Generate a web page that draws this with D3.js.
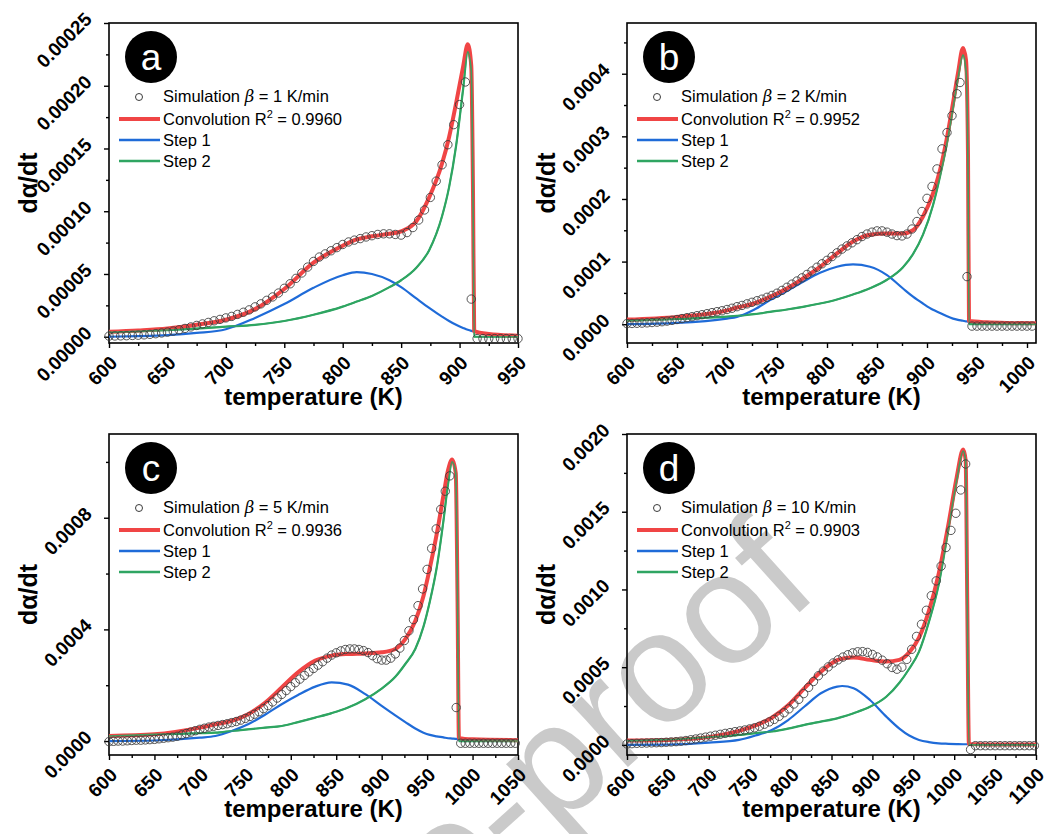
<!DOCTYPE html>
<html>
<head>
<meta charset="utf-8">
<script src="https://cdn.jsdelivr.net/npm/d3@7"></script>
<style>
  body { margin: 0; background: #ffffff; }
  svg { display: block; }
</style>
</head>
<body>
<svg id="chart" width="1057" height="834"></svg>
<script>
// ---------------- DATA ----------------
const panelLetters = ["a", "b", "c", "d"];
const heatingRates = ["1", "2", "5", "10"];
const r2Values = ["0.9960", "0.9952", "0.9936", "0.9903"];
const xDomains = [[600, 950], [600, 1009], [600, 1050], [600, 1100]];
const yDomains = [[-0.000005, 0.00025], [-0.00003, 0.000481], [-0.00005, 0.0011], [-0.000065, 0.002]];
const xMajorTicks = [
  [600, 650, 700, 750, 800, 850, 900, 950],
  [600, 650, 700, 750, 800, 850, 900, 950, 1000],
  [600, 650, 700, 750, 800, 850, 900, 950, 1000, 1050],
  [600, 650, 700, 750, 800, 850, 900, 950, 1000, 1050, 1100]
];
const yMajorTicks = [
  [0, 0.00005, 0.0001, 0.00015, 0.0002, 0.00025],
  [0, 0.0001, 0.0002, 0.0003, 0.0004],
  [0, 0.0004, 0.0008],
  [0, 0.0005, 0.001, 0.0015, 0.002]
];
const yMinorStep = [0.000025, 0.00005, 0.0002, 0.00025];
const yTickFormats = [".5f", ".4f", ".4f", ".4f"];
// values below are given in these units
const valueUnits = [1e-5, 1e-5, 1e-4, 1e-4];

// ---- panel a (beta = 1 K/min), units 1e-5 ----
const lineT_a = [600,625,650,675,700,725,750,775,800,812,825,840,850,863,874,885,891,897,903,907,910,911.5,912.5,925,950];
const conv_a  = [0.4,0.5,0.65,0.95,1.35,2.2,3.8,5.9,7.25,7.75,8.0,8.2,8.4,9.2,11.1,13.8,15.9,18.6,21.5,23.3,21.6,11.5,0.45,0.22,0.08];
const step1_a = [0.0,0.04,0.12,0.3,0.6,1.5,2.6,3.9,4.9,5.15,5.0,4.5,3.95,3.05,2.3,1.6,1.25,0.95,0.7,0.55,0.47,0.44,0.42,0.22,0.08];
const step2_a = [0.35,0.43,0.53,0.65,0.8,0.95,1.25,1.75,2.4,2.8,3.25,3.95,4.5,5.5,6.9,9.6,11.9,15.2,19.7,22.7,21.2,11.0,0.0,0.0,0.0];
const simT_a = [600,605,610,615,620,625,630,635,640,645,650,655,660,665,670,675,680,685,690,695,700,705,710,715,720,725,730,735,740,745,750,755,760,765,770,775,780,785,790,795,800,805,810,815,820,825,830,835,840,845,850,855,860,865,870,875,880,885,890,895,900,905,910,915,920,925,930,935,940,945,950];
const sim_a = [0.05,0.06,0.07,0.08,0.1,0.12,0.15,0.19,0.24,0.3,
  0.37,0.45,0.55,0.66,0.78,0.9,1.02,1.14,1.27,1.38,
  1.5,1.62,1.78,1.95,2.14,2.38,2.62,2.9,3.17,3.48,
  3.86,4.22,4.65,5.08,5.55,6.0,6.35,6.6,6.85,7.1,
  7.35,7.55,7.7,7.82,7.95,8.05,8.15,8.2,8.2,8.15,
  8.1,8.3,8.7,9.3,10.1,11.1,12.4,13.7,15.3,16.9,
  18.5,20.3,3.0,-0.15,-0.15,-0.15,-0.15,-0.15,-0.15,-0.15,-0.15];

// ---- panel b (beta = 2 K/min), units 1e-5 ----
const lineT_b = [600,650,700,710,727,743,760,776,793,810,826,843,860,876,886,896,906,913,919.5,926,931,936,939,941,942,960,980,1009];
const conv_b  = [0.74,1.17,2.2,2.67,3.31,4.37,5.71,7.31,9.17,11.3,13.2,14.3,14.5,14.5,15.0,17.2,20.9,24.6,29.4,35.3,40.1,44.1,42.2,27,0.5,0.3,0.2,0.15];
const step1_b = [0.0,0.2,0.9,1.17,2.3,3.84,5.3,6.77,8.2,9.17,9.55,9.17,7.84,5.7,4.4,3.3,2.3,1.8,1.3,0.9,0.7,0.55,0.45,0.42,0.4,0.2,0.1,0.05];
const step2_b = [0.55,0.85,1.2,1.33,1.6,1.97,2.35,2.77,3.3,3.95,4.75,5.75,7.1,9.1,11.2,14.3,19.0,23.6,28.5,34.5,39.3,43.0,40.5,25,0.0,0.0,0.0,0.0];
const simT_b = [600,605,610,615,620,625,630,635,640,645,650,655,660,665,670,675,680,685,690,695,700,705,710,715,720,725,730,735,740,745,750,755,760,765,770,775,780,785,790,795,800,805,810,815,820,825,830,835,840,845,850,855,860,865,870,875,880,885,890,895,900,905,910,915,920,925,930,933,940,945,950,955,960,965,970,975,980,985,990,995,1000,1005];
const sim_b = [0.1,0.12,0.15,0.18,0.22,0.27,0.33,0.4,0.5,0.62,
  0.75,0.9,1.05,1.2,1.36,1.52,1.68,1.85,2.0,2.15,
  2.35,2.55,2.8,3.0,3.25,3.5,3.75,4.0,4.3,4.6,
  4.95,5.4,5.9,6.4,6.9,7.4,7.95,8.5,9.1,9.65,
  10.2,10.8,11.4,12.0,12.5,13.0,13.5,14.0,14.4,14.7,
  14.9,14.9,14.7,14.4,14.15,14.1,14.4,15.2,16.4,18.0,
  20.1,22.0,24.8,28.0,30.6,33.3,36.8,38.6,7.6,
  -0.3,-0.3,-0.3,-0.3,-0.3,-0.3,-0.3,-0.3,-0.3,-0.3,-0.3,-0.3,-0.3];

// ---- panel c (beta = 5 K/min), units 1e-4 ----
const lineT_c = [600,650,700,717,735,753,772,790,808,827,845,863,882,900,915,926,937,946,953,960.5,968,973,977.5,981.5,983.5,985,1000,1050];
const conv_c  = [0.18,0.24,0.48,0.6,0.72,0.96,1.38,1.92,2.46,2.88,3.06,3.12,3.14,3.18,3.3,3.65,4.3,5.2,6.2,7.4,8.8,9.7,10.09,9.6,5.0,0.1,0.06,0.03];
const step1_c = [0.0,0.02,0.12,0.18,0.36,0.6,0.95,1.32,1.65,1.95,2.1,2.02,1.68,1.26,0.92,0.68,0.45,0.3,0.22,0.17,0.13,0.1,0.09,0.08,0.07,0.07,0.05,0.02];
const step2_c = [0.18,0.24,0.28,0.3,0.36,0.42,0.48,0.54,0.68,0.84,1.0,1.2,1.5,1.88,2.3,2.76,3.3,4.1,5.0,6.2,7.9,9.2,10.0,9.6,5.0,0.0,0.0,0.0];
const simT_c = [600,605,610,615,620,625,630,635,640,645,650,655,660,665,670,675,680,685,690,695,700,705,710,715,720,725,730,735,740,745,750,755,760,765,770,775,780,785,790,795,800,805,810,815,820,825,830,835,840,845,850,855,860,865,870,875,880,885,890,895,900,905,910,915,920,925,930,935,940,945,950,955,960,965,970,975,982,987,992,997,1002,1007,1012,1017,1022,1027,1032,1037,1042,1047];
const sim_c = [-0.02,-0.01,0.0,0.0,0.01,0.02,0.03,0.03,0.04,0.05,
  0.06,0.08,0.1,0.12,0.14,0.17,0.22,0.27,0.32,0.37,
  0.42,0.46,0.5,0.53,0.56,0.59,0.62,0.66,0.7,0.75,
  0.81,0.88,0.96,1.05,1.16,1.27,1.4,1.54,1.67,1.81,
  1.95,2.09,2.22,2.35,2.48,2.6,2.72,2.84,2.97,3.08,
  3.16,3.23,3.28,3.3,3.3,3.28,3.24,3.17,3.06,2.95,
  2.9,2.9,2.97,3.12,3.33,3.6,3.95,4.35,4.85,5.45,
  6.15,6.9,7.6,8.3,8.95,9.5,1.2,
  -0.08,-0.08,-0.08,-0.08,-0.08,-0.08,-0.08,-0.08,-0.08,-0.08,-0.08,-0.08,-0.08];

// ---- panel d (beta = 10 K/min), units 1e-4 ----
const lineT_d = [600,650,700,737,757,777,797,817,837,857,863,877,897,917,933,945,957,969,981,993,1003,1011,1014,1016,1018,1040,1100];
const conv_d  = [0.28,0.32,0.5,0.9,1.25,1.75,2.55,3.65,4.7,5.45,5.55,5.62,5.47,5.36,5.47,5.95,6.9,8.6,11.0,14.2,17.2,19.0,18.3,9.0,0.05,0.03,0.02];
const step1_d = [0.0,0.02,0.15,0.32,0.6,0.96,1.6,2.47,3.32,3.75,3.79,3.64,2.89,1.82,1.05,0.6,0.32,0.18,0.1,0.07,0.05,0.04,0.04,0.04,0.04,0.02,0.01];
const step2_d = [0.26,0.34,0.5,0.64,0.75,0.86,1.05,1.29,1.5,1.71,1.8,2.04,2.45,3.1,4.0,4.9,6.0,7.9,10.3,13.9,17.0,18.9,18.3,9.0,0.0,0.0,0.0];
const simT_d = [600,606,612,618,624,630,636,642,648,654,660,666,672,678,684,690,696,702,708,714,720,726,732,738,744,750,756,762,768,774,780,786,792,798,804,810,816,822,828,834,840,846,852,858,864,870,876,882,888,894,900,906,912,918,924,930,936,942,948,954,960,966,972,978,984,990,996,1002,1008,1014,1020,1026,1032,1038,1044,1050,1056,1062,1068,1074,1080,1086,1092,1098];
const sim_d = [0.06,0.08,0.1,0.11,0.12,0.13,0.14,0.15,0.17,0.19,
  0.21,0.24,0.28,0.33,0.38,0.44,0.5,0.56,0.62,0.68,
  0.74,0.79,0.85,0.9,0.96,1.03,1.1,1.2,1.33,1.48,
  1.64,1.84,2.07,2.32,2.63,2.93,3.3,3.7,4.08,4.45,
  4.75,5.02,5.27,5.47,5.65,5.8,5.92,5.99,6.0,5.95,
  5.82,5.66,5.45,5.22,4.98,4.87,5.0,5.5,6.15,6.98,
  7.76,8.66,9.6,10.55,11.5,12.7,13.8,14.9,16.4,18.07,
  -0.3,-0.05,-0.05,-0.05,-0.05,-0.05,-0.05,-0.05,-0.05,-0.05,-0.05,-0.05,-0.05,-0.05];

const lineTs = [lineT_a, lineT_b, lineT_c, lineT_d];
const convs  = [conv_a, conv_b, conv_c, conv_d];
const step1s = [step1_a, step1_b, step1_c, step1_d];
const step2s = [step2_a, step2_b, step2_c, step2_d];
const simTs  = [simT_a, simT_b, simT_c, simT_d];
const sims   = [sim_a, sim_b, sim_c, sim_d];

// ---------------- LAYOUT / STYLE ----------------
const frames = [
  {x: 109, y: 23,  w: 409, h: 320},
  {x: 627, y: 23,  w: 409, h: 320},
  {x: 109, y: 434, w: 409, h: 321},
  {x: 627, y: 434, w: 409, h: 321}
];
const FONT = '"Liberation Sans", Arial, Helvetica, sans-serif';
const C_RED = "#f04545", C_BLUE = "#1f6bd8", C_GREEN = "#2fa562", C_SIM = "#3a3a3a";

const svg = d3.select("#chart");

// watermark (behind everything)
svg.append("text")
  .attr("transform", "translate(822,592) rotate(-42)")
  .attr("text-anchor", "end")
  .attr("font-family", FONT)
  .attr("font-size", 158)
  .attr("fill", "#cacaca")
  .text("Journal Pre-proof");

frames.forEach((f, i) => {
  const unit = valueUnits[i];
  const x = d3.scaleLinear().domain(xDomains[i]).range([f.x, f.x + f.w]);
  const y = d3.scaleLinear().domain(yDomains[i]).range([f.y + f.h, f.y]);
  const g = svg.append("g");

  // minor ticks
  const xMinor = [];
  for (let t = xDomains[i][0]; t <= xDomains[i][1] + 1e-9; t += 25) if (!xMajorTicks[i].includes(t)) xMinor.push(t);
  const yMinor = [];
  for (let k = 0; k * yMinorStep[i] <= yDomains[i][1] + 1e-12; k++) if (k % 2 === 1) yMinor.push(k * yMinorStep[i]);

  const xMinG = g.append("g").attr("transform", `translate(0,${f.y + f.h})`)
    .call(d3.axisBottom(x).tickValues(xMinor).tickSize(3).tickSizeOuter(0).tickFormat(""));
  const yMinG = g.append("g").attr("transform", `translate(${f.x},0)`)
    .call(d3.axisLeft(y).tickValues(yMinor).tickSize(3).tickSizeOuter(0).tickFormat(""));
  [xMinG, yMinG].forEach(a => { a.select(".domain").remove(); a.selectAll("line").attr("stroke", "#000").attr("stroke-width", 1.4); });

  // major ticks + labels
  const xAx = g.append("g").attr("transform", `translate(0,${f.y + f.h})`)
    .call(d3.axisBottom(x).tickValues(xMajorTicks[i]).tickSize(5).tickSizeOuter(0).tickFormat(d3.format("d")));
  const yAx = g.append("g").attr("transform", `translate(${f.x},0)`)
    .call(d3.axisLeft(y).tickValues(yMajorTicks[i]).tickSize(5).tickSizeOuter(0).tickFormat(d3.format(yTickFormats[i])));
  [xAx, yAx].forEach(a => {
    a.select(".domain").remove();
    a.selectAll("line").attr("stroke", "#000").attr("stroke-width", 1.4);
    a.attr("font-family", FONT).attr("font-size", 19).attr("font-weight", "bold");
    a.selectAll("text").attr("fill", "#000");
  });
  xAx.selectAll("text").attr("x", 0).attr("y", 0).attr("dy", null)
    .attr("text-anchor", "end")
    .attr("transform", "translate(9,21) rotate(-45)");
  yAx.selectAll("text").attr("x", 0).attr("y", 0).attr("dy", null)
    .attr("text-anchor", "end")
    .attr("transform", "translate(-16,-3) rotate(-45)");

  // frame
  g.append("rect").attr("x", f.x).attr("y", f.y).attr("width", f.w).attr("height", f.h)
    .attr("fill", "none").attr("stroke", "#000").attr("stroke-width", 1.6);

  // axis titles
  g.append("text").attr("x", f.x + f.w / 2).attr("y", f.y + f.h + 62)
    .attr("text-anchor", "middle").attr("font-family", FONT).attr("font-size", 24).attr("font-weight", "bold")
    .text("temperature (K)");
  g.append("text").attr("transform", `translate(${f.x - 72},${f.y + f.h / 2}) rotate(-90)`)
    .attr("text-anchor", "middle").attr("font-family", FONT).attr("font-size", 25).attr("font-weight", "bold")
    .text("dα/dt");

  // series
  const lineGen = d3.line().x(d => x(d[0])).y(d => y(d[1] * unit)).curve(d3.curveMonotoneX);
  const zipLine = (ts, vs) => ts.map((t, k) => [t, vs[k]]);
  g.append("path").datum(zipLine(lineTs[i], step2s[i])).attr("d", lineGen)
    .attr("fill", "none").attr("stroke", C_GREEN).attr("stroke-width", 2.2);
  g.append("path").datum(zipLine(lineTs[i], step1s[i])).attr("d", lineGen)
    .attr("fill", "none").attr("stroke", C_BLUE).attr("stroke-width", 2.2);
  g.append("path").datum(zipLine(lineTs[i], convs[i])).attr("d", lineGen)
    .attr("fill", "none").attr("stroke", C_RED).attr("stroke-width", 4).attr("stroke-linejoin", "round");
  g.append("path").datum(zipLine(lineTs[i], step2s[i])).attr("d", lineGen)
    .attr("fill", "none").attr("stroke", C_GREEN).attr("stroke-width", 1.6).attr("opacity", 0.9);

  g.append("g").selectAll("circle").data(zipLine(simTs[i], sims[i])).join("circle")
    .attr("cx", d => x(d[0])).attr("cy", d => y(d[1] * unit)).attr("r", 4.2)
    .attr("fill", "none").attr("stroke", C_SIM).attr("stroke-width", 1).attr("stroke-opacity", 0.85);

  // badge
  g.append("circle").attr("cx", f.x + 42).attr("cy", f.y + 34).attr("r", 26).attr("fill", "#000");
  g.append("text").attr("x", f.x + 42).attr("y", f.y + 34).attr("dy", "0.36em")
    .attr("text-anchor", "middle").attr("font-family", FONT).attr("font-size", 37).attr("fill", "#fff")
    .text(panelLetters[i]);

  // legend
  const lg = g.append("g").attr("font-family", FONT).attr("font-size", 16.5).attr("fill", "#000");
  lg.append("circle").attr("cx", f.x + 30).attr("cy", f.y + 74).attr("r", 3.5)
    .attr("fill", "none").attr("stroke", C_SIM).attr("stroke-width", 1);
  const t1 = lg.append("text").attr("x", f.x + 54).attr("y", f.y + 79);
  t1.append("tspan").text("Simulation ");
  t1.append("tspan").attr("font-family", '"DejaVu Serif", "Liberation Serif", serif').attr("font-style", "italic").text("β");
  t1.append("tspan").text(` = ${heatingRates[i]} K/min`);
  const rows = [
    {c: C_RED, w: 4, y: 96, label: "conv"},
    {c: C_BLUE, w: 2.5, y: 117, label: "Step 1"},
    {c: C_GREEN, w: 2.5, y: 138, label: "Step 2"}
  ];
  rows.forEach(r => {
    lg.append("line").attr("x1", f.x + 10).attr("x2", f.x + 51)
      .attr("y1", f.y + r.y).attr("y2", f.y + r.y).attr("stroke", r.c).attr("stroke-width", r.w);
    const t = lg.append("text").attr("x", f.x + 54).attr("y", f.y + r.y + 6);
    if (r.label === "conv") {
      t.append("tspan").text("Convolution R");
      t.append("tspan").attr("font-size", 11).attr("dy", -7).text("2");
      t.append("tspan").attr("dy", 7).text(` = ${r2Values[i]}`);
    } else {
      t.text(r.label);
    }
  });
});
</script>
</body>
</html>
